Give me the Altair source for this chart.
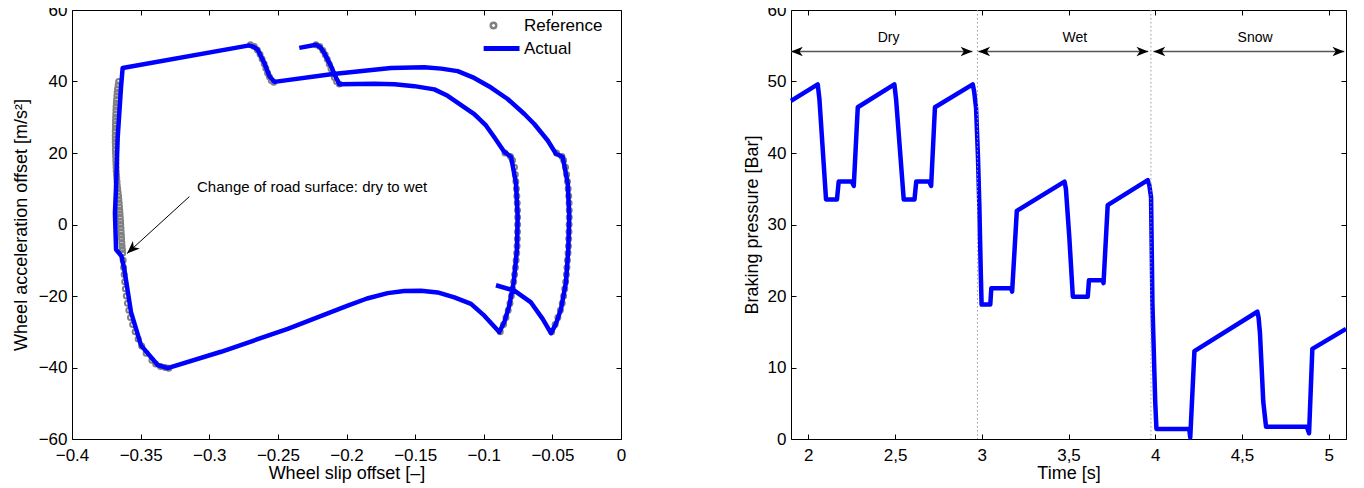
import altair as alt
import pandas as pd

FONT = "Liberation Sans Narrow, Arial Narrow, Liberation Sans, Arial, sans-serif"
INWARD = {"expr": "-5"}
ARROW_HEAD = "M0,0L-1,-0.4L-0.72,0L-1,0.4Z"
LEGEND_LINE = "M-3.6,-0.45L9.5,-0.45M-3.6,0L9.5,0M-3.6,0.45L9.5,0.45"

# ---------------- Left panel: wheel slip vs wheel acceleration ----------------
actual_slip = [-0.2344, -0.2222, -0.2190, -0.2162, -0.2113, -0.2077, -0.2052, -0.1797, -0.1650, -0.1506,
               -0.1360, -0.1263, -0.1069, -0.0984, -0.0923, -0.0850, -0.0801, -0.0765, -0.0753, -0.0758,
               -0.0782, -0.0814, -0.0850, -0.0887, -0.0996, -0.1093, -0.1214, -0.1336, -0.1457, -0.1580,
               -0.1700, -0.1850, -0.1991, -0.2428, -0.2914, -0.3303, -0.3376, -0.3497, -0.3570, -0.3619,
               -0.3640, -0.3679, -0.3687, -0.3679, -0.3667, -0.3643, -0.3631, -0.2708, -0.2672, -0.2647,
               -0.2599, -0.2562, -0.2526, -0.2113, -0.1676, -0.1433, -0.1310, -0.1190, -0.1070, -0.0947,
               -0.0826, -0.0704, -0.0632, -0.0534, -0.0474, -0.0425, -0.0388, -0.0377, -0.0384, -0.0401,
               -0.0437, -0.0474, -0.0510, -0.0571, -0.0656, -0.0777, -0.0911]
actual_acc = [49.4, 50.3, 49.6, 48.0, 44.3, 41.1, 39.2, 39.4, 39.2, 38.7,
              37.8, 36.0, 30.9, 27.7, 24.4, 20.3, 18.9, 11.5, 2.3, -7.0,
              -16.2, -22.7, -27.3, -30.1, -25.5, -22.2, -20.4, -19.0, -18.5, -18.6,
              -19.2, -20.7, -22.7, -29.2, -35.6, -40.2, -39.3, -33.8, -24.5, -12.5,
              -8.8, -7.0, 3.2, 10.6, 24.4, 38.3, 43.8, 50.1, 49.6, 48.9,
              45.2, 41.5, 39.9, 42.0, 43.8, 44.0, 43.6, 42.9, 41.0, 38.3,
              35.1, 30.9, 28.1, 23.5, 19.8, 18.9, 11.5, 2.3, -7.0, -16.2,
              -23.6, -27.8, -30.4, -26.4, -21.8, -18.5, -17.0]

ref_left_acc = [40, 39, 38, 37, 36, 35, 34, 33, 32, 31, 30, 29, 28, 27, 26, 25, 24, 23, 22, 21,
                20, 19, 18, 17, 16, 15, 14, 13, 12, 11, 10, 9, 8, 7, 6, 5, 4, 3, 2, 1,
                0, -1, -2, -3, -4, -5, -6, -7, -8, -10, -12, -14, -16, -18, -20, -22, -24, -26, -28, -30,
                -32, -34, -36, -38, -39, -39.7, -40, -40.2]
ref_left_slip = [-0.3660, -0.3664, -0.3668, -0.3671, -0.3673, -0.3675, -0.3677, -0.3679, -0.3680, -0.3681,
                 -0.3682, -0.3683, -0.3684, -0.3684, -0.3685, -0.3685, -0.3685, -0.3685, -0.3684, -0.3684,
                 -0.3683, -0.3682, -0.3681, -0.3680, -0.3679, -0.3678, -0.3676, -0.3674, -0.3672, -0.3670,
                 -0.3667, -0.3664, -0.3661, -0.3659, -0.3656, -0.3654, -0.3652, -0.3650, -0.3648, -0.3646,
                 -0.3645, -0.3643, -0.3642, -0.3640, -0.3639, -0.3637, -0.3635, -0.3633, -0.3631, -0.3627,
                 -0.3624, -0.3620, -0.3616, -0.3611, -0.3604, -0.3596, -0.3586, -0.3574, -0.3558, -0.3540,
                 -0.3518, -0.3492, -0.3460, -0.3418, -0.3390, -0.3355, -0.3320, -0.3295]
ref_hump1_slip = [-0.2700, -0.2672, -0.2650, -0.2630, -0.2615, -0.2600, -0.2588, -0.2575, -0.2562, -0.2548, -0.2530]
ref_hump1_acc = [50.3, 49.8, 48.8, 47.6, 46.3, 45.0, 43.7, 42.4, 41.3, 40.3, 39.8]
ref_hump2_slip = [-0.2222, -0.2195, -0.2172, -0.2155, -0.2140, -0.2126, -0.2113, -0.2100, -0.2088, -0.2072, -0.2052]
ref_hump2_acc = [50.3, 49.8, 48.7, 47.5, 46.2, 44.9, 43.6, 42.3, 41.1, 40.0, 39.3]
ref_branch_acc = [20, 19, 18, 16, 14, 12, 10, 8, 6, 4, 2, 0, -2, -4, -6, -8, -10, -12, -14, -16,
                  -18, -20, -22, -24, -26, -28, -30]
ref_branch1_slip = [-0.0845, -0.0805, -0.0790, -0.0776, -0.0770, -0.0766, -0.0762, -0.0759, -0.0756, -0.0754,
                    -0.0753, -0.0753, -0.0754, -0.0755, -0.0757, -0.0760, -0.0764, -0.0769, -0.0775, -0.0782,
                    -0.0790, -0.0799, -0.0809, -0.0822, -0.0838, -0.0856, -0.0880]
ref_branch2_slip = [-0.0470, -0.0430, -0.0418, -0.0404, -0.0396, -0.0390, -0.0385, -0.0381, -0.0378, -0.0377,
                    -0.0377, -0.0378, -0.0379, -0.0381, -0.0383, -0.0386, -0.0390, -0.0394, -0.0398, -0.0403,
                    -0.0410, -0.0418, -0.0428, -0.0442, -0.0460, -0.0480, -0.0505]

legend_series = ["Reference", "Actual"]
slip_ticks = [-0.4, -0.35, -0.3, -0.25, -0.2, -0.15, -0.1, -0.05, 0]
acc_ticks = [-60, -40, -20, 0, 20, 40, 60]

note_text = ["Change of road surface: dry to wet"]
note_slip = [-0.3089]
note_acc = [10.4]
note_arrow_slip = [-0.3145, -0.3599]   # from, to
note_arrow_acc = [7.8, -8.1]

# ---------------- Right panel: braking pressure vs time ----------------
time_s = [1.900, 2.054, 2.064, 2.102, 2.165, 2.175, 2.250, 2.262, 2.285, 2.496,
          2.506, 2.550, 2.612, 2.622, 2.697, 2.708, 2.730, 2.948, 2.956, 2.967,
          2.978, 2.986, 2.994, 2.999, 3.049, 3.055, 3.169, 3.175, 3.202, 3.477,
          3.485, 3.505, 3.525, 3.611, 3.618, 3.698, 3.702, 3.726, 3.957, 3.966,
          3.976, 3.984, 4.000, 4.007, 4.196, 4.202, 4.226, 4.589, 4.596, 4.604,
          4.623, 4.639, 4.874, 4.887, 4.906, 5.100]
pressure_bar = [47.3, 49.6, 47.5, 33.5, 33.5, 36.0, 36.0, 35.4, 46.4, 49.6,
                47.5, 33.5, 33.5, 36.0, 36.0, 35.4, 46.4, 49.6, 48.6, 46.3,
                39.5, 32.6, 23.5, 18.8, 18.8, 21.1, 21.1, 20.6, 31.9, 36.0,
                35.0, 28.1, 19.9, 19.9, 22.2, 22.2, 21.8, 32.7, 36.2, 35.5,
                33.8, 18.9, 5.2, 1.4, 1.4, 0.2, 12.3, 17.8, 17.0, 14.8,
                5.2, 1.7, 1.7, 0.8, 12.6, 15.4]
time_ticks = [2, 2.5, 3, 3.5, 4, 4.5, 5]
pressure_ticks = [0, 10, 20, 30, 40, 50, 60]

surface_labels = ["Dry", "Wet", "Snow"]
surface_label_t = [2.463, 3.536, 4.576]
surface_start_t = [1.900, 2.980, 3.990]
surface_end_t = [2.946, 3.960, 5.090]
surface_arrow_p = [54.2, 54.2, 54.2]
surface_label_p = [56.1, 56.1, 56.1]
surface_change_t = [2.975, 3.975]


def main_axis(orient, values, title, label_pad, fmt=None, label_expr=None, **kw):
    opts = dict(orient=orient, values=values, title=title, grid=False, domain=False,
                ticks=True, tickSize=INWARD, tickColor="black", tickWidth=1,
                labelPadding=label_pad, labelFont=FONT, labelFontSize=17, labelColor="black",
                labelFlush=False, labelOverlap=False,
                titleFont=FONT, titleFontSize=18, titleFontWeight="normal", titleColor="black")
    if fmt is not None:
        opts["format"] = fmt
    if label_expr is not None:
        opts["labelExpr"] = label_expr
    opts.update(kw)
    return alt.Axis(**opts)


def tick_axis(orient, values):
    return alt.Axis(orient=orient, values=values, labels=False, title=None, grid=False, domain=False,
                    ticks=True, tickSize=INWARD, tickColor="black", tickWidth=1)


# ---------- left chart ----------
ref_df = pd.DataFrame({
    "slip": ref_left_slip + ref_hump1_slip + ref_hump2_slip + ref_branch1_slip + ref_branch2_slip,
    "acc": ref_left_acc + ref_hump1_acc + ref_hump2_acc + ref_branch_acc + ref_branch_acc,
})
ref_df["series"] = "Reference"
act_df = pd.DataFrame({"slip": actual_slip, "acc": actual_acc})
act_df["i"] = range(len(act_df))

lx = alt.Scale(domain=[-0.4, 0], nice=False, zero=False)
ly = alt.Scale(domain=[-60, 60], nice=False, zero=False)

legend = alt.Legend(title=None, orient="none", legendX=413, legendY=7, padding=0, rowPadding=5,
                    labelFont=FONT, labelFontSize=17, labelColor="black", symbolSize=30,
                    symbolStrokeWidth=2.5, labelOffset=22)

ref_layer = alt.Chart(ref_df).mark_point(filled=False, size=25, strokeWidth=2, opacity=1).encode(
    x=alt.X("slip:Q", scale=lx,
            axis=main_axis("bottom", slip_ticks, "Wheel slip offset [–]", 13, fmt=".2~f",
                           titleY=34, titleBaseline="middle")),
    y=alt.Y("acc:Q", scale=ly,
            axis=main_axis("left", acc_ticks, "Wheel acceleration offset [m/s²]", 10, fmt=".0f",
                           titleX=-51, titleBaseline="middle")),
    color=alt.Color("series:N", scale=alt.Scale(domain=legend_series, range=["#808080", "#0000ff"]),
                    legend=legend),
    shape=alt.Shape("series:N", scale=alt.Scale(domain=legend_series, range=["circle", LEGEND_LINE]),
                    legend=legend),
)

act_layer = alt.Chart(act_df).mark_line(color="#0000ff", strokeWidth=4.5, strokeJoin="round").encode(
    x=alt.X("slip:Q", scale=lx, axis=tick_axis("top", slip_ticks)),
    y=alt.Y("acc:Q", scale=ly, axis=tick_axis("right", acc_ticks)),
    order="i:Q",
)

note_df = pd.DataFrame({"slip": note_slip, "acc": note_acc, "text": note_text})
note_layer = alt.Chart(note_df).mark_text(font=FONT, fontSize=15, color="black", align="left",
                                          baseline="middle").encode(
    x=alt.X("slip:Q", scale=lx, axis=None), y=alt.Y("acc:Q", scale=ly, axis=None), text="text:N")

shaft_df = pd.DataFrame({"x0": [note_arrow_slip[0]], "y0": [note_arrow_acc[0]],
                         "x1": [note_arrow_slip[1]], "y1": [note_arrow_acc[1]]})
shaft_layer = alt.Chart(shaft_df).mark_rule(color="black", strokeWidth=1).encode(
    x=alt.X("x0:Q", scale=lx, axis=None), y=alt.Y("y0:Q", scale=ly, axis=None), x2="x1:Q", y2="y1:Q")

head_df = pd.DataFrame({"slip": [note_arrow_slip[1]], "acc": [note_arrow_acc[1]]})
head_layer = alt.Chart(head_df).mark_point(shape=ARROW_HEAD, filled=True, color="black", size=650,
                                           opacity=1, angle=137).encode(
    x=alt.X("slip:Q", scale=lx, axis=None), y=alt.Y("acc:Q", scale=ly, axis=None))

left = alt.layer(ref_layer, act_layer, note_layer, shaft_layer, head_layer).resolve_axis(
    x="independent", y="independent").properties(width=549, height=429)

# ---------- right chart ----------
rx = alt.Scale(domain=[1.9, 5.1], nice=False, zero=False)
ry = alt.Scale(domain=[0, 60], nice=False, zero=False)

press_df = pd.DataFrame({"t": time_s, "p": pressure_bar})
press_layer = alt.Chart(press_df).mark_line(color="#0000ff", strokeWidth=4.5, strokeJoin="round").encode(
    x=alt.X("t:Q", scale=rx,
            axis=main_axis("bottom", time_ticks, "Time [s]", 13,
                           label_expr="replace(format(datum.value, '~g'), '.', ',')",
                           titleY=34, titleBaseline="middle")),
    y=alt.Y("p:Q", scale=ry,
            axis=main_axis("left", pressure_ticks, "Braking pressure [Bar]", 10, fmt=".0f",
                           titleX=-39, titleBaseline="middle")),
)

change_df = pd.DataFrame({"t": surface_change_t})
change_layer = alt.Chart(change_df).mark_rule(color="#999999", strokeWidth=1, strokeDash=[1.5, 2.5]).encode(
    x=alt.X("t:Q", scale=rx, axis=tick_axis("top", time_ticks)))

arrow_df = pd.DataFrame({"t0": surface_start_t, "t1": surface_end_t, "p": surface_arrow_p})
arrow_layer = alt.Chart(arrow_df).mark_rule(color="#555555", strokeWidth=1.5).encode(
    x=alt.X("t0:Q", scale=rx, axis=None), x2="t1:Q",
    y=alt.Y("p:Q", scale=ry, axis=tick_axis("right", pressure_ticks)))

heads_df = pd.DataFrame({"t": surface_start_t + surface_end_t,
                         "p": surface_arrow_p + surface_arrow_p,
                         "ang": [180] * len(surface_start_t) + [0] * len(surface_end_t)})
heads_layer = alt.Chart(heads_df).mark_point(shape=ARROW_HEAD, filled=True, color="black", size=560,
                                             opacity=1).encode(
    x=alt.X("t:Q", scale=rx, axis=None), y=alt.Y("p:Q", scale=ry, axis=None),
    angle=alt.Angle("ang:Q", scale=None))

label_df = pd.DataFrame({"t": surface_label_t, "p": surface_label_p, "text": surface_labels})
label_layer = alt.Chart(label_df).mark_text(font=FONT, fontSize=14, color="black", baseline="middle").encode(
    x=alt.X("t:Q", scale=rx, axis=None), y=alt.Y("p:Q", scale=ry, axis=None), text="text:N")

right = alt.layer(press_layer, change_layer, arrow_layer, heads_layer, label_layer).resolve_axis(
    x="independent", y="independent").properties(width=555, height=429)

chart = alt.hconcat(left, right, spacing=170, bounds="flush").properties(
    autosize=alt.AutoSizeParams(type="pad"),
    padding={"left": 3, "top": -8, "right": 5, "bottom": 0},
).configure_view(stroke="black", strokeWidth=1)

chart.save("out.html", embed_options={"renderer": "svg", "actions": False})
